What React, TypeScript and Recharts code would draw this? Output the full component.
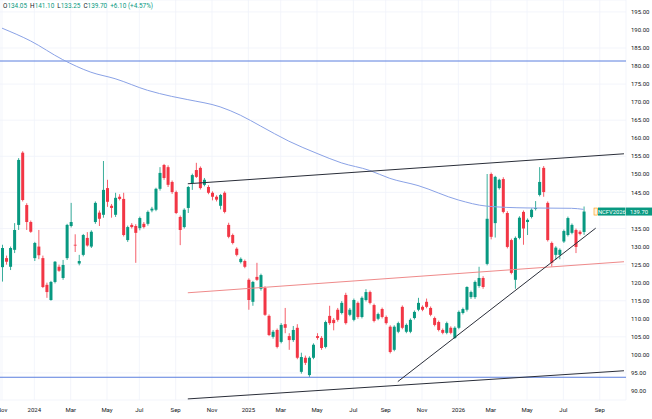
import {
  Bar,
  CartesianGrid,
  ComposedChart,
  Line,
  ReferenceLine,
  XAxis,
  YAxis,
} from 'recharts';

// weekly candles, week 0 = Mon 1 Jan 2024
const FIRST_WEEK = -8;
const LAST_SLOT = 146;

const OPEN = [
  124.3, 126.8, 124.4, 129.1, 136.0, 156.0, 141.5, 136.8, 126.8, 130.0,
  126.8, 119.4, 115.2, 120.2, 124.4, 121.3, 126.8, 135.7, 130.5, 125.3,
  127.7, 132.4, 130.0, 136.8, 139.4, 138.8, 146.2, 141.3, 138.8, 143.8,
  143.2, 131.8, 136.0, 135.7, 135.1, 136.3, 136.3, 140.0, 140.2, 146.0,
  152.6, 152.0, 147.9, 145.1, 138.2, 135.4, 140.7, 147.6, 151.2, 151.8,
  147.1, 146.5, 144.9, 143.8, 141.3, 144.9, 136.0,
  133.2, 129.4, 125.7, 126.0, 120.8, 114.7, 121.6, 118.3, 118.5, 110.8,
  105.0, 106.9, 103.6, 108.5, 105.2, 104.1, 107.5, 95.3, 99.2, 94.4,
  99.2, 105.2, 104.7, 102.2, 110.8,
  109.7, 112.5, 111.6, 116.6, 111.1, 109.7, 114.4, 110.5, 115.2, 117.4,
  113.8, 110.0, 112.7, 110.5, 107.8, 101.4, 106.4, 113.3, 106.4, 106.4,
  110.2, 112.5, 113.3, 114.7, 113.0, 110.2, 109.1, 106.9, 106.1, 107.5,
  104.7, 107.5, 111.6,
  112.5, 116.0, 116.0, 119.1, 121.3, 125.2, 150.1, 136.5, 146.2, 148.7,
  139.3, 131.8, 120.8, 132.4, 139.6, 136.8, 138.2, 140.4, 144.3, 151.8,
  142.1, 131.0, 127.7, 127.7, 131.4, 133.2, 133.8, 134.6, 134.1, 134.05,
];
const HIGH = [
  130.5, 127.5, 130.0, 136.5, 154.5, 156.4, 142.0, 137.2, 131.3, 134.6,
  127.5, 120.0, 120.5, 126.0, 125.0, 126.3, 136.3, 142.1, 133.4, 127.7,
  133.5, 134.0, 134.5, 142.5, 140.0, 153.7, 148.5, 141.8, 144.9, 144.5,
  144.9, 135.8, 136.5, 136.2, 138.3, 136.8, 140.0, 141.0, 146.3, 152.0,
  152.9, 152.5, 148.3, 145.5, 138.6, 140.6, 146.8, 150.2, 153.2, 152.2,
  149.0, 147.0, 145.3, 144.2, 144.6, 145.3, 136.6,
  133.6, 129.8, 127.0, 126.4, 121.2, 120.5, 125.5, 122.5, 119.0, 111.2,
  106.9, 107.3, 108.8, 113.0, 106.0, 108.0, 108.5, 100.6, 99.8, 99.6,
  103.2, 106.0, 105.2, 109.5, 113.6,
  110.2, 113.0, 114.9, 117.2, 113.0, 115.6, 114.8, 116.2, 118.2, 117.8,
  114.2, 111.7, 113.1, 110.9, 108.2, 108.2, 109.2, 113.7, 108.7, 110.1,
  112.3, 115.8, 113.7, 115.6, 113.4, 110.6, 109.5, 107.3, 109.2, 107.9,
  107.9, 112.3, 113.1,
  119.0, 117.8, 120.6, 124.4, 121.8, 150.1, 150.5, 149.6, 148.8, 149.2,
  139.8, 132.2, 132.8, 138.4, 140.0, 137.8, 140.6, 142.6, 152.0, 152.3,
  142.5, 131.4, 130.1, 129.5, 134.7, 138.3, 136.4, 135.0, 134.5, 141.1,
];
const LOW = [
  120.3, 125.0, 123.5, 128.2, 134.6, 142.5, 134.6, 133.8, 126.0, 126.5,
  118.5, 115.8, 115.0, 119.8, 123.0, 120.8, 126.3, 135.3, 128.5, 124.8,
  127.3, 130.0, 129.6, 136.3, 135.7, 138.0, 141.0, 138.0, 138.2, 142.8,
  132.8, 131.3, 135.0, 125.5, 134.5, 135.0, 135.8, 139.5, 139.8, 145.5,
  148.5, 146.5, 144.6, 139.0, 130.4, 135.0, 139.3, 145.7, 149.0, 145.8,
  146.7, 144.5, 142.8, 142.5, 140.3, 139.2, 132.3,
  130.6, 127.3, 125.3, 124.0, 112.5, 113.6, 120.5, 117.8, 110.8, 105.2,
  104.5, 101.8, 103.2, 106.0, 101.4, 103.6, 98.8, 94.8, 97.2, 93.9,
  98.8, 104.2, 101.4, 101.8, 108.3,
  106.8, 109.2, 111.2, 108.4, 110.7, 109.3, 110.0, 110.1, 114.8, 114.0,
  109.0, 109.6, 110.1, 108.4, 100.4, 101.0, 106.0, 107.1, 106.0, 106.0,
  109.8, 112.1, 112.1, 112.9, 110.7, 107.9, 106.5, 105.7, 105.7, 105.7,
  104.4, 107.1, 111.2,
  112.0, 115.5, 115.5, 118.6, 118.3, 124.8, 132.0, 132.5, 145.8, 139.2,
  129.5, 122.3, 118.3, 132.0, 130.5, 133.2, 137.8, 140.0, 143.9, 143.8,
  131.4, 124.4, 126.3, 126.5, 131.0, 132.8, 133.4, 128.2, 133.1, 133.25,
];
const CLOSE = [
  129.6, 125.8, 129.6, 134.6, 154.0, 142.9, 136.8, 134.1, 131.0, 127.6,
  118.8, 117.4, 120.2, 125.8, 123.3, 124.9, 136.0, 136.8, 130.3, 126.0,
  133.2, 130.3, 134.1, 142.1, 137.7, 145.7, 142.4, 140.7, 143.5, 143.2,
  133.2, 135.4, 135.4, 133.8, 137.9, 135.4, 139.6, 140.5, 146.0, 150.4,
  149.0, 147.1, 145.1, 139.3, 134.6, 140.2, 146.5, 149.8, 149.3, 146.2,
  148.5, 144.9, 143.8, 143.0, 144.3, 139.6, 132.7,
  131.0, 127.7, 126.6, 124.4, 115.2, 120.2, 120.8, 122.1, 111.1, 105.5,
  106.4, 102.2, 108.3, 107.5, 104.1, 106.9, 99.2, 99.4, 97.8, 99.2,
  102.8, 104.7, 101.9, 109.1, 108.8,
  108.8, 109.7, 114.4, 108.8, 112.5, 115.2, 110.5, 115.8, 117.4, 114.4,
  109.4, 111.3, 110.5, 108.8, 100.8, 107.8, 108.8, 107.5, 108.3, 109.7,
  111.9, 114.4, 112.5, 113.3, 111.1, 108.3, 106.9, 106.1, 108.8, 106.1,
  107.5, 111.9, 112.7,
  118.8, 117.4, 120.2, 121.3, 118.8, 137.7, 132.7, 149.3, 148.5, 139.6,
  129.9, 122.7, 132.4, 138.0, 135.0, 137.4, 140.2, 140.7, 147.9, 145.1,
  131.8, 125.5, 129.7, 129.1, 134.3, 137.9, 136.0, 129.9, 133.5, 139.7,
];

// slow moving average, read at a few weeks
const MA_WEEKS = [-8, -1, 7, 14, 20, 28, 34, 38, 46, 51, 56, 63, 70, 76, 83, 88, 95, 105, 112, 122, 133, 136];
const MA_VALUES = [
  190.5, 187.0, 181.8, 178.3, 176.5, 173.3, 171.6, 170.7, 168.7, 166.4, 163.4,
  159.2, 155.8, 153.2, 151.1, 148.9, 146.9, 142.9, 141.2, 140.7, 140.6, 140.3,
];

// drawn trend lines: [week, price] end points
const UPPER_LINE = [[38, 147.4], [146, 155.7]];
const RED_LINE = [[38, 117.2], [146, 125.8]];
const LOWER_LINE = [[38, 87.8], [146, 95.6]];
const RISING_LINE = [[90, 92.6], [139, 135.1]];
const LEVELS = [181.4, 93.8];

const TICK_WEEKS = [-8, 0, 9, 18, 26, 35, 44, 53, 61, 70, 79, 87, 96, 105, 113, 122, 131, 140];
const TICK_LABELS = ['Nov', '2024', 'Mar', 'May', 'Jul', 'Sep', 'Nov', '2025', 'Mar', 'May', 'Jul', 'Sep', 'Nov', '2026', 'Mar', 'May', 'Jul', 'Sep'];
const PRICE_TICKS = [90, 95, 100, 105, 110, 115, 120, 125, 130, 135, 145, 150, 155, 160, 165, 170, 175, 180, 185, 190, 195];

const SYMBOL = 'NCFV2026';
const LAST_CLOSE = 139.7;

const GREEN = '#089981';
const RED = '#f23645';
const TEXT = '#131722';
const FONT = 'Roboto, "DejaVu Sans", sans-serif';

function buildRows() {
  const rows: any[] = [];
  for (let w = FIRST_WEEK; w <= LAST_SLOT; w++) {
    const i = w - FIRST_WEEK;
    const row: any = { w };
    if (i < OPEN.length) {
      row.o = OPEN[i];
      row.h = HIGH[i];
      row.l = LOW[i];
      row.c = CLOSE[i];
      row.range = [LOW[i], HIGH[i]];
    }
    const m = MA_WEEKS.indexOf(w);
    if (m >= 0) row.ma = MA_VALUES[m];
    const lines: [string, number[][]][] = [
      ['upper', UPPER_LINE],
      ['red', RED_LINE],
      ['lower', LOWER_LINE],
      ['rising', RISING_LINE],
    ];
    lines.forEach(([key, pts]) => {
      pts.forEach(([pw, pv]) => {
        if (pw === w) row[key] = pv;
      });
    });
    rows.push(row);
  }
  return rows;
}

const rows = buildRows();

function Candle(props: any) {
  const { x, y, width, height, payload } = props;
  if (!payload || payload.o == null) return null;
  const { o, h, l, c } = payload;
  const top = Math.min(y, y + height);
  const span = Math.abs(height);
  const toY = (p: number) => (h === l ? top : top + ((h - p) / (h - l)) * span);
  const color = c >= o ? GREEN : RED;
  const cx = x + width / 2;
  const bodyTop = toY(Math.max(o, c));
  const bodyBottom = toY(Math.min(o, c));
  return (
    <g>
      <line x1={cx} x2={cx} y1={top} y2={top + span} stroke={color} strokeWidth={0.8} />
      <rect x={x} y={bodyTop} width={width} height={Math.max(0.8, bodyBottom - bodyTop)} fill={color} />
    </g>
  );
}

function PriceTag(props: any) {
  const { viewBox } = props;
  if (!viewBox) return null;
  const right = viewBox.x + viewBox.width;
  const cy = viewBox.y;
  return (
    <g fontFamily={FONT} fontSize={5.8}>
      <rect x={right - 32} y={cy - 3.5} width={3.5} height={7} fill="#fff3e0" stroke="#ff9800" strokeWidth={0.6} />
      <rect x={right - 28} y={cy - 4} width={27.5} height={8} fill={GREEN} />
      <text x={right - 14.2} y={cy + 2} textAnchor="middle" fill="#fff">{SYMBOL}</text>
      <rect x={right} y={cy - 4} width={26} height={8} fill={GREEN} />
      <text x={right + 13} y={cy + 2} textAnchor="middle" fill="#fff">{LAST_CLOSE.toFixed(2)}</text>
    </g>
  );
}

function Header() {
  const item = (k: string, v: string) => (
    <span style={{ marginRight: 3 }}>
      <span style={{ color: TEXT }}>{k}</span>
      <span style={{ color: GREEN }}>{v}</span>
    </span>
  );
  return (
    <div
      style={{
        position: 'absolute',
        left: 3,
        top: 2,
        fontFamily: FONT,
        fontSize: 6.4,
        lineHeight: '8px',
        whiteSpace: 'nowrap',
        zIndex: 2,
      }}
    >
      {item('O', '134.05')}
      {item('H', '141.10')}
      {item('L', '133.25')}
      {item('C', '139.70')}
      <span style={{ color: GREEN }}>+6.10 (+4.57%)</span>
    </div>
  );
}

export default function App() {
  return (
    <div style={{ position: 'absolute', left: 0, top: 0, width: 652, height: 419, background: '#fff', overflow: 'hidden' }}>
      <Header />
      <ComposedChart width={652} height={419} data={rows} margin={{ top: 0, right: 0, bottom: 0, left: 0 }}>
        <CartesianGrid stroke="#f0f3fa" strokeWidth={0.8} />
        <XAxis
          dataKey="w"
          type="category"
          ticks={TICK_WEEKS}
          interval={0}
          height={19}
          axisLine={false}
          tickLine={false}
          tickSize={0}
          tickMargin={8}
          tick={{ fontSize: 6, fill: TEXT, fontFamily: FONT }}
          tickFormatter={(v: number) => TICK_LABELS[TICK_WEEKS.indexOf(v)] ?? ''}
        />
        <YAxis
          orientation="right"
          width={26}
          domain={[87.5, 198.3]}
          allowDataOverflow
          ticks={PRICE_TICKS}
          axisLine={false}
          tickLine={false}
          tickSize={0}
          tickMargin={5}
          tick={{ fontSize: 6, fill: TEXT, fontFamily: FONT }}
          tickFormatter={(v: number) => v.toFixed(2)}
        />
        {LEVELS.map((lv) => (
          <ReferenceLine key={lv} y={lv} stroke="#5b7fde" strokeWidth={1} />
        ))}
        <Line dataKey="ma" type="monotone" connectNulls dot={false} activeDot={false} stroke="#8aa2e6" strokeWidth={1} isAnimationActive={false} />
        <Line dataKey="red" connectNulls dot={false} activeDot={false} stroke="#ef8a8a" strokeWidth={1} isAnimationActive={false} />
        <Line dataKey="upper" connectNulls dot={false} activeDot={false} stroke="#2a2e39" strokeWidth={1} isAnimationActive={false} />
        <Line dataKey="lower" connectNulls dot={false} activeDot={false} stroke="#2a2e39" strokeWidth={1} isAnimationActive={false} />
        <Line dataKey="rising" connectNulls dot={false} activeDot={false} stroke="#2a2e39" strokeWidth={1} isAnimationActive={false} />
        <Bar dataKey="range" barSize={3} shape={<Candle />} isAnimationActive={false} />
        <ReferenceLine y={LAST_CLOSE} stroke="none" ifOverflow="visible" label={<PriceTag />} />
      </ComposedChart>
    </div>
  );
}
